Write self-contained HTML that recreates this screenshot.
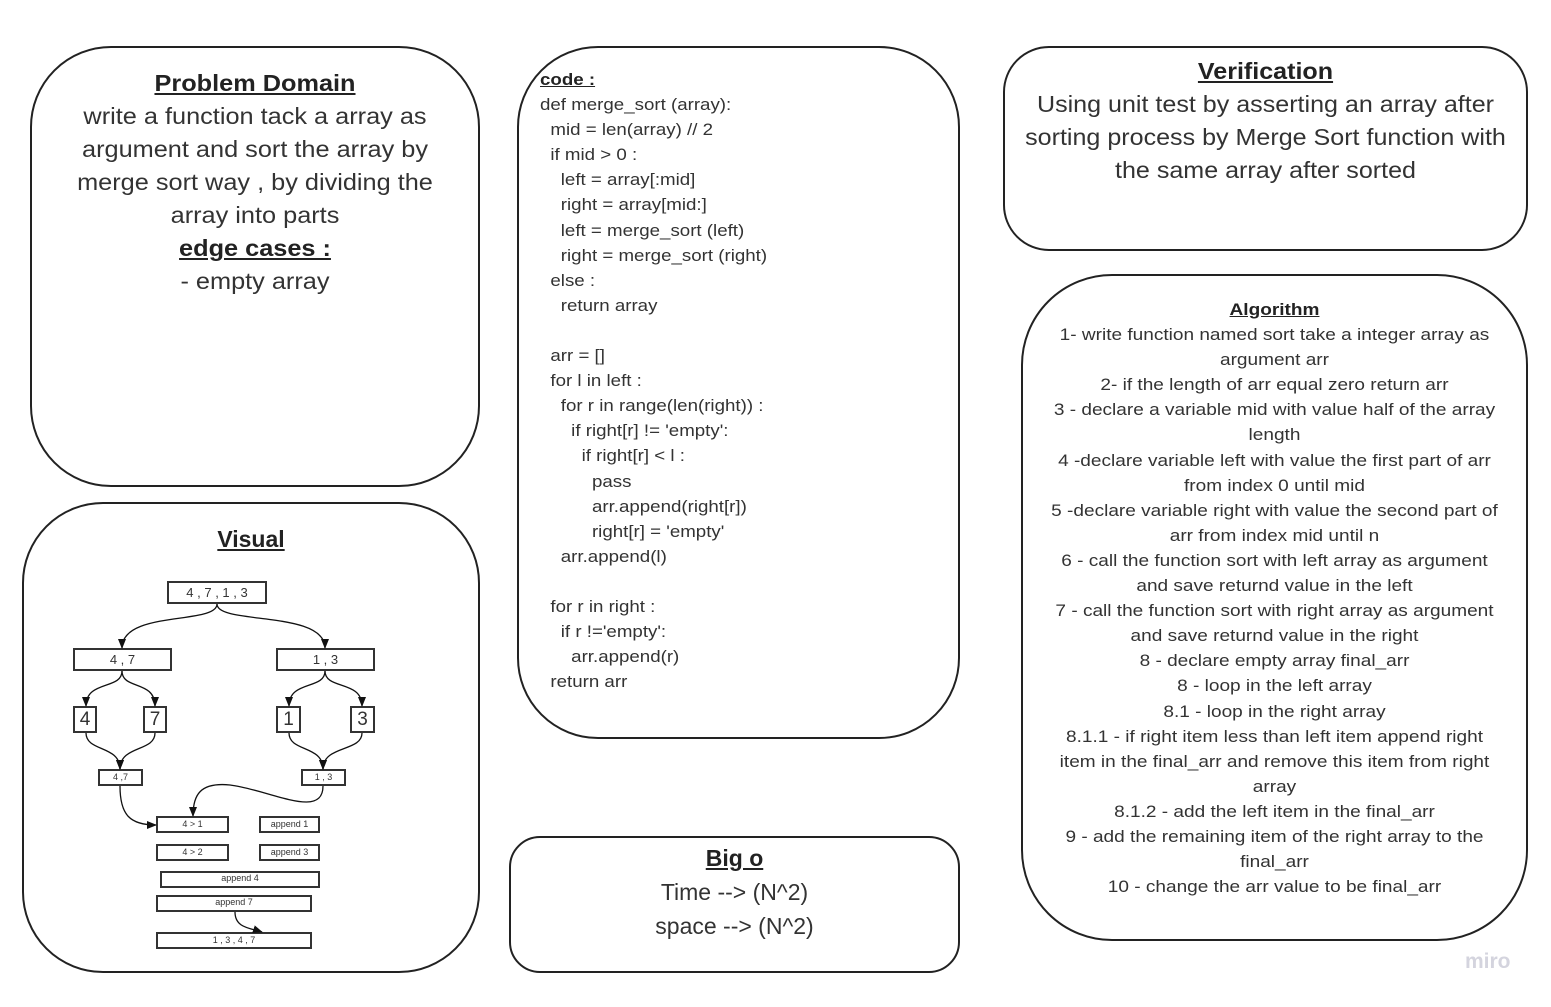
<!DOCTYPE html>
<html><head><meta charset="utf-8"><style>
html,body{margin:0;padding:0;background:#fff;}
#c{position:relative;width:1551px;height:1007px;overflow:hidden;font-family:"Liberation Sans",sans-serif;color:#333;}
.t{position:absolute;white-space:pre;}
.ctr{position:absolute;text-align:center;white-space:pre;}
.h{font-weight:bold;text-decoration:underline;color:#222;}
svg{position:absolute;left:0;top:0;}
</style></head><body><div id="c">
<svg width="1551" height="1007" viewBox="0 0 1551 1007">
<defs><marker id="a" markerWidth="10" markerHeight="10" refX="9" refY="5" orient="auto" markerUnits="userSpaceOnUse"><path d="M0,1 L10,5 L0,9 Z" fill="#111"/></marker></defs>
<g fill="none" stroke="#222" stroke-width="2">
<rect x="31" y="47" width="448" height="439" rx="80"/>
<rect x="23" y="503" width="456" height="469" rx="80"/>
<rect x="518" y="47" width="441" height="691" rx="80"/>
<rect x="510" y="837" width="449" height="135" rx="30"/>
<rect x="1004" y="47" width="523" height="203" rx="45"/>
<rect x="1022" y="275" width="505" height="665" rx="90"/>
</g>
<g fill="#fff" stroke="#333" stroke-width="2">
<rect x="168" y="582" width="98" height="21"/>
<rect x="74" y="649" width="97" height="21"/>
<rect x="277" y="649" width="97" height="21"/>
<rect x="74" y="707" width="22" height="25"/>
<rect x="144" y="707" width="22" height="25"/>
<rect x="277" y="707" width="23" height="25"/>
<rect x="351" y="707" width="23" height="25"/>
<rect x="99" y="770" width="43" height="15"/>
<rect x="302" y="770" width="43" height="15"/>
<rect x="157" y="817" width="71" height="15"/>
<rect x="260" y="817" width="59" height="15"/>
<rect x="157" y="845" width="71" height="15"/>
<rect x="260" y="845" width="59" height="15"/>
<rect x="161" y="872" width="158" height="15"/>
<rect x="157" y="896" width="154" height="15"/>
<rect x="157" y="933" width="154" height="15"/>
</g>
<g fill="none" stroke="#111" stroke-width="1.3" marker-end="url(#a)">
<path d="M217,604 C217,625 122,610 122,648"/>
<path d="M217,604 C217,625 325,610 325,648"/>
<path d="M122,671 C122,690 86,680 86,706"/>
<path d="M122,671 C122,690 155,680 155,706"/>
<path d="M325,671 C325,690 289,680 289,706"/>
<path d="M325,671 C325,690 362,680 362,706"/>
<path d="M86,733 C86,752 120,745 120,769"/>
<path d="M155,733 C155,752 120,745 120,769"/>
<path d="M289,733 C289,752 323,745 323,769"/>
<path d="M362,733 C362,752 323,745 323,769"/>
<path d="M120,786 C120,815 130,825 156,825"/>
<path d="M323,786 C323,820 270,790 230,785 C200,782 193,795 193,816"/>
<path d="M235,912 C235,928 250,928 262,932"/>
</g>
</svg>
<div style="position:absolute;left:168px;top:582px;width:98px;line-height:21px;text-align:center;font-size:13px;">4 , 7 , 1 , 3</div>
<div style="position:absolute;left:74px;top:649px;width:97px;line-height:21px;text-align:center;font-size:13px;">4 , 7</div>
<div style="position:absolute;left:277px;top:649px;width:97px;line-height:21px;text-align:center;font-size:13px;">1 , 3</div>
<div style="position:absolute;left:74px;top:707px;width:22px;line-height:25px;text-align:center;font-size:19px;">4</div>
<div style="position:absolute;left:144px;top:707px;width:22px;line-height:25px;text-align:center;font-size:19px;">7</div>
<div style="position:absolute;left:277px;top:707px;width:23px;line-height:25px;text-align:center;font-size:19px;">1</div>
<div style="position:absolute;left:351px;top:707px;width:23px;line-height:25px;text-align:center;font-size:19px;">3</div>
<div style="position:absolute;left:99px;top:770px;width:43px;line-height:15px;text-align:center;font-size:9px;">4 ,7</div>
<div style="position:absolute;left:302px;top:770px;width:43px;line-height:15px;text-align:center;font-size:9px;">1 , 3</div>
<div style="position:absolute;left:157px;top:817px;width:71px;line-height:15px;text-align:center;font-size:9px;">4 &gt; 1</div>
<div style="position:absolute;left:260px;top:817px;width:59px;line-height:15px;text-align:center;font-size:9px;">append 1</div>
<div style="position:absolute;left:157px;top:845px;width:71px;line-height:15px;text-align:center;font-size:9px;">4 &gt; 2</div>
<div style="position:absolute;left:260px;top:845px;width:59px;line-height:15px;text-align:center;font-size:9px;">append 3</div>
<div style="position:absolute;left:161px;top:871px;width:158px;line-height:15px;text-align:center;font-size:9px;">append 4</div>
<div style="position:absolute;left:157px;top:895px;width:154px;line-height:15px;text-align:center;font-size:9px;">append 7</div>
<div style="position:absolute;left:157px;top:933px;width:154px;line-height:15px;text-align:center;font-size:9px;">1 , 3 , 4 , 7</div>

<div class="ctr" style="left:31px;top:67px;width:448px;font-size:23px;line-height:33px;transform:scaleX(1.1);"><span class="h">Problem Domain</span>
write a function tack a array as
argument and sort the array by
merge sort way , by dividing the
array into parts
<span class="h">edge cases :</span>
- empty array</div>

<div class="ctr" style="left:23px;top:523px;width:456px;font-size:23px;line-height:33px;"><span class="h">Visual</span></div>

<div class="t" style="left:540px;top:67px;font-size:17px;line-height:25.1px;transform:scaleX(1.1);transform-origin:0 0;"><span class="h">code :</span>
def merge_sort (array):
  mid = len(array) // 2
  if mid &gt; 0 :
    left = array[:mid]
    right = array[mid:]
    left = merge_sort (left)
    right = merge_sort (right)
  else :
    return array

  arr = []
  for l in left :
    for r in range(len(right)) :
      if right[r] != 'empty':
        if right[r] &lt; l :
          pass
          arr.append(right[r])
          right[r] = 'empty'
    arr.append(l)

  for r in right :
    if r !='empty':
      arr.append(r)
  return arr</div>

<div class="ctr" style="left:510px;top:841px;width:449px;font-size:23px;line-height:34px;"><span class="h">Big o</span>
Time --&gt; (N^2)
space --&gt; (N^2)</div>

<div class="ctr" style="left:1004px;top:55px;width:523px;font-size:23px;line-height:33px;transform:scaleX(1.09);"><span class="h">Verification</span>
Using unit test by asserting an array after
sorting process by Merge Sort function with
the same array after sorted</div>

<div class="ctr" style="left:1022px;top:297px;width:505px;font-size:17px;line-height:25.1px;transform:scaleX(1.12);"><span class="h">Algorithm</span>
1- write function named sort take a integer array as
argument arr
2- if the length of arr equal zero return arr
3 - declare a variable mid with value half of the array
length
4 -declare variable left with value the first part of arr
from index 0 until mid
5 -declare variable right with value the second part of
arr from index mid until n
6 - call the function sort with left array as argument
and save returnd value in the left
7 - call the function sort with right array as argument
and save returnd value in the right
8 - declare empty array final_arr
8 - loop in the left array
8.1 - loop in the right array
8.1.1 - if right item less than left item append right
item in the final_arr and remove this item from right
array
8.1.2 - add the left item in the final_arr
9 - add the remaining item of the right array to the
final_arr
10 - change the arr value to be final_arr</div>

<div class="t" style="left:1465px;top:950px;font-size:21px;font-weight:bold;color:#d4d4de;">miro</div>
</div></body></html>
